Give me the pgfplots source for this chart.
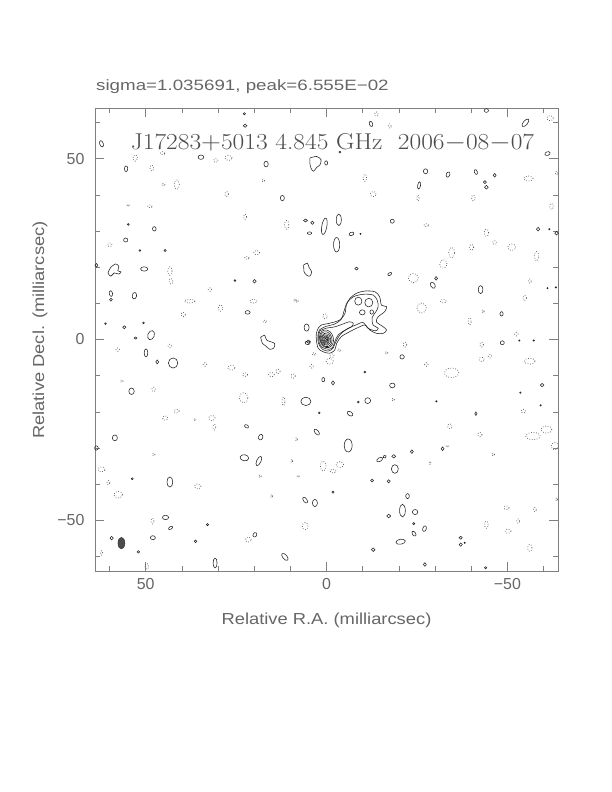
\documentclass[border=0pt]{standalone}
\usepackage{pgfplots}
\pgfplotsset{compat=1.18}
\usepackage{pgfplotstable}
\usepackage{graphicx}
\usepackage{fontspec}
\newfontfamily\sans{Liberation Sans}
\definecolor{axgray}{gray}{0.5}
\definecolor{txgray}{gray}{0.4}
\definecolor{txdark}{gray}{0.3}
\definecolor{cont}{gray}{0.12}
\definecolor{negc}{gray}{0.35}
\definecolor{beamc}{gray}{0.3}

\pgfdeclareplotmark{ell}{%
  \pgfscope
  \pgftransformscale{3.617}%
  \pgftransformrotate{\myang}%
  \pgfpathellipse{\pgfpointorigin}{\pgfpoint{\myrx bp}{0bp}}{\pgfpoint{0bp}{\myry bp}}%
  \pgfusepathqstroke
  \endpgfscope}
\pgfdeclareplotmark{ellf}{%
  \pgfscope
  \pgftransformscale{3.617}%
  \pgftransformrotate{\myang}%
  \pgfpathellipse{\pgfpointorigin}{\pgfpoint{\myrx bp}{0bp}}{\pgfpoint{0bp}{\myry bp}}%
  \pgfusepathqfillstroke
  \endpgfscope}

\pgfplotsset{ellvars/.style={
  visualization depends on={\thisrow{rx}\as\myrx},
  visualization depends on={\thisrow{ry}\as\myry},
  visualization depends on={\thisrow{ang}\as\myang}}}

% positive small contours: x y (mas), semi-axes rx ry (mas), angle
\pgfplotstableread{
x y rx ry ang
62.2 54.1 0.5 0.9 20
22.7 62.4 0.3 0.3 0
22.5 59.1 0.5 0.45 0
34.7 50.4 0.8 0.6 0
55.4 47.2 0.45 0.8 0
16.7 48.5 0.6 0.8 0
0.1 48.8 0.4 0.6 0
12.2 39.1 0.55 0.75 0
5.8 32.9 0.55 0.4 0
3.9 32.3 0.45 0.45 0
4.7 29.4 0.6 0.35 0
0.6 31.3 0.7 2.3 -10
47.6 30.6 0.5 0.6 0
54.8 31.8 0.25 0.25 0
55.5 27.5 0.6 0.55 0
51.6 24.6 0.25 0.25 0
44.6 24.6 0.3 0.3 0
63.6 20.5 0.4 0.5 0
50.4 19.5 1.0 0.6 0
25.3 16.3 0.25 0.25 0
19.9 16.1 0.45 0.5 0
59.6 12.7 0.45 0.8 10
59.6 11.0 0.4 0.4 0
53.1 12.1 0.6 0.9 -10
21.8 7.5 0.7 0.5 0
61.1 4.4 0.25 0.25 0
55.9 3.4 0.45 0.4 0
50.6 4.6 0.25 0.25 0
48.5 1.2 0.9 1.3 -20
52.8 0.4 0.4 0.3 0
5.5 3.3 0.7 1.0 0
5.0 -0.6 0.55 0.45 0
-44.2 63.3 0.6 0.5 0
-12.3 59.6 0.45 0.75 20
-55.0 59.9 0.6 1.3 -40
-3.7 51.8 0.25 0.25 0
-61.1 51.4 0.75 0.5 20
-27.4 46.5 0.6 0.7 0
-33.6 45.6 0.5 0.75 -20
-41.3 46.3 0.4 0.7 20
-46.5 45.4 0.4 0.5 0
-25.6 42.6 0.4 1.0 -10
-43.8 43.5 0.4 0.4 0
-44.2 42.1 0.5 0.5 0
-3.4 33.1 0.7 1.6 0
-18.2 32.7 0.55 0.55 0
-6.9 29.2 0.7 0.45 20
-9.4 29.2 0.2 0.2 0
-2.8 26.2 0.85 2.0 0
-58.5 30.5 0.45 0.5 0
-61.6 30.5 0.2 0.2 0
-63.6 29.4 0.5 0.5 0
-8.3 19.6 0.45 0.4 0
-17.5 18.1 0.6 0.35 30
-42.6 13.8 0.65 1.1 0
-48.4 7.1 0.45 0.6 0
-61.1 14.2 0.2 0.2 0
-63.4 14.4 0.2 0.2 0
-29.4 15.0 0.6 0.9 30
-30.3 16.9 0.4 0.5 0
49.9 -3.7 0.5 1.1 0
46.8 -6.2 0.4 0.55 0
42.4 -6.5 1.3 1.4 0
5.2 -0.9 0.7 0.5 0
0.9 -11.1 0.4 0.6 0
53.9 -14.3 0.75 0.9 0
5.7 -17.1 1.4 1.15 0
2.0 -20.3 0.25 0.25 0
22.1 -24.0 0.6 0.4 -30
18.2 -27.0 0.6 0.8 -20
58.5 -27.2 0.7 0.8 0
63.6 -30.0 0.5 0.6 0
2.7 -25.6 0.5 1.0 40
22.7 -32.7 1.2 0.85 -10
18.7 -33.6 0.6 1.4 -25
43.3 -39.4 0.8 1.4 0
53.7 -38.5 0.3 0.3 0
5.9 -44.4 0.5 0.95 35
3.2 -45.2 0.7 1.0 0
44.5 -49.2 0.85 0.6 0
43.1 -52.1 0.65 0.35 30
32.9 -51.2 0.3 0.3 0
59.4 -54.9 0.45 0.5 0
48.0 -54.8 0.7 0.55 0
52.0 -58.7 0.35 0.35 0
36.2 -55.8 0.35 0.35 0
19.8 -54.0 0.5 0.65 -30
11.5 -60.1 0.6 1.2 40
30.8 -61.8 0.55 1.35 0
-48.6 -0.9 0.55 0.55 0
-53.3 -0.3 0.2 0.2 0
-57.3 -0.3 0.2 0.2 0
-20.9 -4.8 0.6 0.6 0
-10.6 -9.0 0.25 0.25 0
-1.8 -12.0 0.45 0.55 0
-18.2 -12.7 0.75 0.65 0
-11.4 -16.9 0.8 0.8 0
-8.8 -17.3 0.25 0.25 0
-6.5 -20.5 0.85 0.55 -35
-30.4 -17.1 0.2 0.2 0
-41.3 -20.5 0.3 0.5 0
-59.6 -12.6 0.5 0.45 0
-53.6 -14.7 0.2 0.2 0
-59.2 -18.2 0.2 0.2 0
-6.0 -29.3 1.1 1.8 0
-14.7 -33.2 0.9 0.5 30
-16.1 -32.4 0.45 0.4 30
-18.6 -32.3 0.55 0.45 0
-23.6 -31.0 0.4 0.5 0
-32.1 -30.2 0.4 0.5 0
-18.9 -35.8 0.95 1.2 0
-12.6 -39.0 0.4 0.4 0
-17.2 -39.2 0.4 0.45 0
-1.8 -42.2 0.3 0.3 0
-22.4 -43.3 0.5 0.7 0
-21.0 -47.3 0.8 1.75 0
-24.5 -47.7 0.75 0.7 0
-17.2 -48.8 0.55 0.5 0
-24.1 -50.9 0.3 0.3 0
-27.1 -52.3 0.5 0.8 -20
-24.2 -53.7 0.45 0.75 35
-20.5 -55.9 1.3 0.7 10
-12.9 -58.1 0.5 0.5 0
-37.1 -54.8 0.45 0.4 0
-37.1 -56.7 0.45 0.45 0
-38.2 -56.2 0.2 0.2 0
-27.2 -62.2 0.4 0.5 0
-44.0 -63.1 0.3 0.3 0
}\posblobs

% jet islands and core contours
\pgfplotstableread{
x y rx ry ang
-8.8 10.6 1.0 1.1 0
-11.7 10.2 1.1 1.2 0
-9.9 7.5 0.8 0.7 0
-12.5 7.6 0.5 0.6 0
0.0 0.2 1.9 2.5 15
0.1 0.1 1.6 2.1 15
0.15 0.05 1.3 1.7 15
0.2 0.0 1.0 1.35 15
0.2 0.0 0.75 1.0 15
0.2 0.0 0.5 0.7 15
0.2 0.0 0.28 0.38 15
}\corecont

% negative (dotted) contours
\pgfplotstableread{
x y rx ry ang
52.9 50.2 0.6 0.9 0
48.3 47.4 0.5 0.8 0
45.3 51.5 0.6 0.4 0
45.1 42.8 0.5 0.4 0
41.4 42.8 0.7 1.3 0
27.1 50.2 1.0 0.7 0
30.6 49.5 0.6 0.5 0
27.6 40.2 0.5 0.7 0
22.5 33.9 0.4 0.8 0
11.0 31.7 0.6 1.2 0
19.3 24.0 0.8 0.6 0
22.0 22.6 0.6 0.4 0
43.3 18.9 0.6 1.2 0
43.0 16.1 0.5 0.8 0
32.2 13.8 0.5 0.5 0
37.8 10.6 1.5 0.5 0
29.3 8.7 0.6 0.9 0
20.2 10.6 1.0 0.5 0
39.6 6.9 0.6 0.6 0
59.9 26.2 0.6 0.5 0
48.8 36.8 0.6 0.4 0
54.8 37.1 0.3 0.3 0
17.5 43.9 0.4 0.4 0
8.2 10.6 0.4 0.4 0
0.4 6.4 0.6 0.7 0
8.8 10.9 0.4 0.4 0
17.0 5.0 0.5 0.4 0
-13.8 62.3 0.5 0.6 0
-17.5 59.0 0.4 0.6 0
-10.6 44.7 0.5 1.0 0
-12.9 40.2 0.8 0.7 0
-25.3 39.1 0.3 0.8 0
-40.6 39.1 0.5 0.8 0
-55.8 44.5 1.3 0.7 0
-61.8 61.2 0.9 0.7 0
-63.6 46.0 0.4 0.5 0
-62.2 36.8 0.5 0.8 0
-44.2 29.5 0.6 1.0 0
-46.5 26.8 0.6 0.5 0
-27.6 31.6 0.6 0.4 0
-34.6 24.0 0.8 1.5 0
-32.3 20.9 1.0 1.2 0
-40.1 25.5 0.6 0.8 0
-51.2 25.5 1.1 0.9 0
-58.1 23.0 0.6 1.3 0
-24.0 17.0 1.4 1.3 0
-26.3 8.7 1.3 1.4 0
-32.3 10.6 0.8 0.5 0
-39.6 5.0 0.4 1.0 0
-54.8 11.5 0.5 0.7 0
-56.2 16.1 0.4 0.6 0
-52.5 1.5 0.5 0.5 0
-43.3 7.8 0.3 0.5 0
43.3 -1.8 0.5 0.5 0
57.7 -2.8 0.5 0.5 0
33.6 -6.9 0.5 0.5 0
26.3 -7.8 1.0 0.7 0
22.5 -9.7 0.7 0.5 0
15.2 -9.7 0.8 0.6 0
13.4 -8.8 0.6 0.6 0
9.2 -10.1 0.6 0.6 0
4.1 -7.4 0.5 0.5 0
56.6 -11.5 0.4 0.4 0
47.8 -13.8 0.5 0.6 0
22.9 -16.1 1.2 1.4 0
11.9 -17.1 0.4 1.2 0
41.4 -19.8 0.7 0.5 0
44.6 -21.7 0.7 0.6 0
31.7 -21.7 0.9 0.7 0
31.0 -24.2 0.4 0.8 0
47.8 -31.8 0.4 0.4 0
36.4 -22.1 0.4 0.3 0
62.2 -35.9 1.0 0.7 0
60.3 -39.6 0.4 0.6 0
57.6 -42.9 1.2 0.9 0
35.6 -40.6 0.9 0.7 0
18.4 -37.8 0.4 0.4 0
0.9 -35.0 0.8 1.4 0
48.1 -50.2 0.4 0.8 0
5.9 -51.6 0.8 1.0 0
21.6 -55.3 0.8 0.7 0
49.7 -62.7 0.5 0.8 0
62.2 -59.0 0.3 0.6 0
8.3 -27.6 0.3 0.5 0
9.6 -33.6 0.3 0.5 0
7.8 -37.8 0.3 0.3 0
15.2 -43.3 0.3 0.5 0
3.5 -4.0 0.5 0.4 0
-1.5 -4.5 0.6 0.5 0
-3.5 -3.0 0.5 0.4 0
-0.9 -6.0 1.0 0.8 0
-21.7 -1.4 0.5 0.7 0
-16.6 -3.7 0.4 0.4 0
-27.6 -6.9 0.5 0.5 0
-34.6 -9.2 2.0 1.3 0
-42.9 -5.5 0.7 0.6 0
-45.2 -4.6 0.5 0.5 0
-56.2 -6.0 1.5 0.8 0
-54.4 -19.8 0.6 0.5 0
-42.4 -26.3 0.6 0.6 0
-34.1 -24.0 0.6 0.7 0
-46.1 -31.8 0.4 0.4 0
-57.1 -26.7 2.0 1.0 0
-60.8 -24.9 1.5 1.0 0
-63.1 -29.5 1.0 1.0 0
-3.7 -34.6 1.0 0.8 0
-1.8 -36.4 0.8 0.5 0
-28.6 -34.1 0.3 0.4 0
-49.8 -46.5 0.7 0.5 0
-44.2 -51.2 0.5 1.0 0
-50.2 -53.0 0.8 0.6 0
-53.0 -50.2 0.4 0.6 0
-56.2 -57.6 0.6 1.0 0
-63.6 -44.2 0.3 0.5 0
-42.9 -1.4 0.5 0.7 0
-18.4 -16.6 0.4 0.4 0
-33.4 -29.5 0.3 0.3 0
-57.6 -47.0 0.4 0.6 0
}\negblobs

\pgfplotstableread{
x y rx ry ang
56.7 -56.3 0.95 1.6 0
}\beam

\begin{document}
\begin{tikzpicture}
\path[use as bounding box] (0,0) rectangle (612bp,792bp);
\begin{axis}[
  at={(95bp,221bp)}, anchor=south west,
  scale only axis, width=463bp, height=463bp,
  xmin=-64, xmax=64, ymin=-64, ymax=64,
  x dir=reverse,
  xtick={-50,0,50}, xticklabels={−50,0,50},
  ytick={-50,0,50}, yticklabels={−50,0,50},
  minor xtick={-60,-40,-30,-20,-10,10,20,30,40,60},
  minor ytick={-60,-40,-30,-20,-10,10,20,30,40,60},
  tick align=inside,
  major tick length=9bp, minor tick length=5bp,
  axis line style={axgray, line width=0.6pt},
  every tick/.style={axgray, line width=0.6pt},
  tick label style={font=\sans\fontsize{16}{18}\selectfont, text=txgray},
  xticklabel style={yshift=-4bp},
  yticklabel style={xshift=-7bp},
  clip=true,
]
% negative contours (dotted)
\addplot[only marks, mark=ell, ellvars,
  mark options={negc, line width=0.75pt, dash pattern=on 0.7pt off 1.8pt}]
  table[x=x,y=y]{\negblobs};
% positive small contours
\addplot[only marks, mark=ell, ellvars,
  mark options={cont, line width=0.55pt, solid}]
  table[x=x,y=y]{\posblobs};
% core and jet islands
\addplot[only marks, mark=ell, ellvars,
  mark options={cont, line width=0.55pt, solid}]
  table[x=x,y=y]{\corecont};
% beam
\addplot[only marks, mark=ellf, ellvars,
  mark options={draw=black!80, fill=beamc, line width=0.5pt, solid}]
  table[x=x,y=y]{\beam};
% main source contours
\addplot[cont, line width=0.55pt, smooth, tension=0.5] coordinates {
(2.3,3.1)(1.4,4.0)(-0.9,4.5)(-3.7,5.4)(-5.1,7.2)(-5.5,9.5)(-6.5,11.4)(-8.3,12.8)
(-10.6,13.4)(-13.4,13.2)(-14.7,11.8)(-15.2,9.5)(-16.6,9.1)(-16.1,7.7)(-14.3,6.3)
(-13.8,4.9)(-15.7,3.5)(-16.6,2.6)(-15.7,1.7)(-13.8,1.7)(-12.0,2.6)(-10.6,4.0)
(-8.3,3.1)(-6.5,2.2)(-4.1,0.8)(-2.8,-1.1)(-2.3,-2.9)(-0.9,-3.8)(0.9,-3.4)
(2.3,-2.4)(2.8,-0.1)(2.8,1.7)(2.3,3.1)};
\addplot[cont, line width=0.55pt, smooth, tension=0.5] coordinates {
(2.0,2.6)(0.5,3.5)(-2.3,4.3)(-4.1,5.6)(-4.8,7.7)(-5.7,10.2)(-7.4,11.8)(-10.1,12.5)
(-12.9,12.3)(-14.0,10.9)(-14.3,9.1)(-13.6,7.6)(-12.6,6.0)(-12.9,4.0)(-14.3,3.1)
(-13.6,2.4)(-11.5,3.1)(-10.1,4.7)(-8.1,4.0)(-6.0,3.1)(-3.9,1.5)(-2.6,-0.6)
(-1.8,-2.4)(-0.5,-3.2)(1.1,-2.7)(2.2,-1.1)(2.4,1.0)(2.0,2.6)};
\addplot[cont, line width=0.55pt, smooth, tension=0.5] coordinates {
(1.8,2.4)(0.2,3.1)(-2.3,3.5)(-4.6,4.3)(-6.3,4.9)(-7.4,4.5)(-6.9,3.5)(-5.1,2.6)
(-3.2,1.2)(-2.3,-0.6)(-1.7,-2.2)(-0.5,-2.7)(1.1,-2.2)(2.0,-0.9)(2.2,1.0)(1.8,2.4)};
% irregular isolated components
\addplot[cont, line width=0.55pt, smooth, tension=0.5] coordinates {
(4.6,50.2)(2.7,50.6)(1.5,49.7)(1.8,48.3)(2.7,47.6)(3.6,46.5)(4.3,47.4)(4.6,48.8)(4.6,50.2)};
\addplot[cont, line width=0.55pt, smooth, tension=0.5] coordinates {
(59.6,20.0)(58.3,20.9)(57.4,20.2)(57.7,19.0)(56.8,18.7)(57.4,18.1)(58.7,18.4)(59.6,17.5)(60.4,18.4)(59.6,20.0)};
\addplot[cont, line width=0.55pt, smooth, tension=0.5] coordinates {
(18.2,0.6)(17.1,1.2)(16.6,-0.1)(15.5,-0.6)(14.3,-1.1)(14.6,-2.4)(15.7,-2.7)(16.8,-1.8)(17.7,-1.1)(18.2,0.6)};
\addplot[cont, line width=0.55pt, smooth, tension=0.5] coordinates {
(6.3,20.6)(5.3,21.1)(4.8,19.9)(4.1,18.7)(4.6,17.5)(5.5,17.8)(6.2,18.7)(6.3,20.6)};
\end{axis}
\node[anchor=base west, text=txgray, inner sep=0pt] at (96bp,701bp)
  {\sans\fontsize{15}{18}\selectfont\scalebox{1.255}[1]{sigma=1.035691, peak=6.555E−02}};
\node[anchor=center, text=txdark, inner sep=0pt] at (332.5bp,649bp)
  {\scalebox{1.11}[1]{\fontsize{23}{26}\selectfont J17283$+$5013 4.845 GHz\ \ 2006$-$08$-$07}};
\node[anchor=center, text=txgray, inner sep=0pt] at (326.5bp,172bp)
  {\sans\fontsize{16}{18}\selectfont\scalebox{1.15}[1]{Relative R.A. (milliarcsec)}};
\node[anchor=center, text=txgray, inner sep=0pt, rotate=90] at (40bp,462bp)
  {\sans\fontsize{16}{18}\selectfont\scalebox{1.15}[1]{Relative Decl. (milliarcsec)}};
\end{tikzpicture}
\end{document}
